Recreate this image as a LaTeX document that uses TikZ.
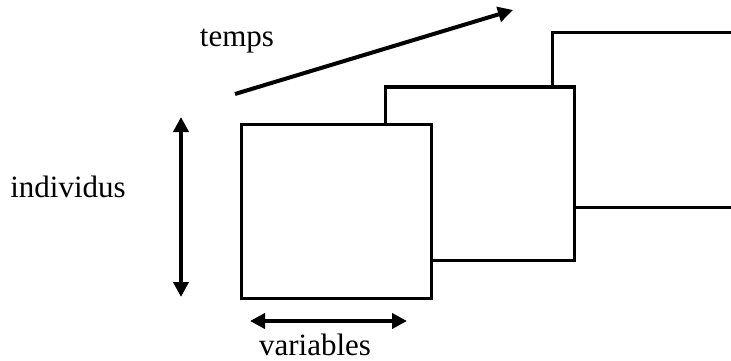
\documentclass[tikz,border=0pt]{standalone}
\usepackage{fontspec}
\setmainfont{Liberation Serif}
\usetikzlibrary{arrows.meta}

\tikzset{
    tableau/.style={draw, line width=3pt, fill=white},
    fleche/.style={line width=4pt, -{Triangle[length=15pt,width=15pt]}},
    doublefleche/.style={line width=4pt, {Triangle[length=15pt,width=15pt]}-{Triangle[length=15pt,width=15pt]}},
    etiquette/.style={font=\fontsize{31}{36}\selectfont, anchor=base, inner sep=0pt}
}

\begin{document}
\begin{tikzpicture}[x=1pt, y=-1pt]
    \useasboundingbox (0,0) rectangle (731,361);
    \clip (0,0) rectangle (731,361);
    % les trois tableaux, du plus loin au plus proche
    \draw[tableau] (552,33) rectangle (760,207);
    \draw[tableau] (385,87) rectangle (574,260);
    \draw[tableau] (241,124) rectangle (431,298);
    % axes
    \coordinate (t0) at (235,94);
    \coordinate (t1) at (513,10);
    \coordinate (i0) at (181,117);
    \coordinate (i1) at (181,297);
    \coordinate (v0) at (250,321);
    \coordinate (v1) at (407,321);
    \draw[fleche] (t0) -- (t1);
    \draw[doublefleche] (i0) -- (i1);
    \draw[doublefleche] (v0) -- (v1);
    % textes
    \node[etiquette] (temps) at (237,47) {temps};
    \node[etiquette] (individus) at (68,197) {individus};
    \node[etiquette] (variables) at (315,355) {variables};
\end{tikzpicture}
\end{document}
